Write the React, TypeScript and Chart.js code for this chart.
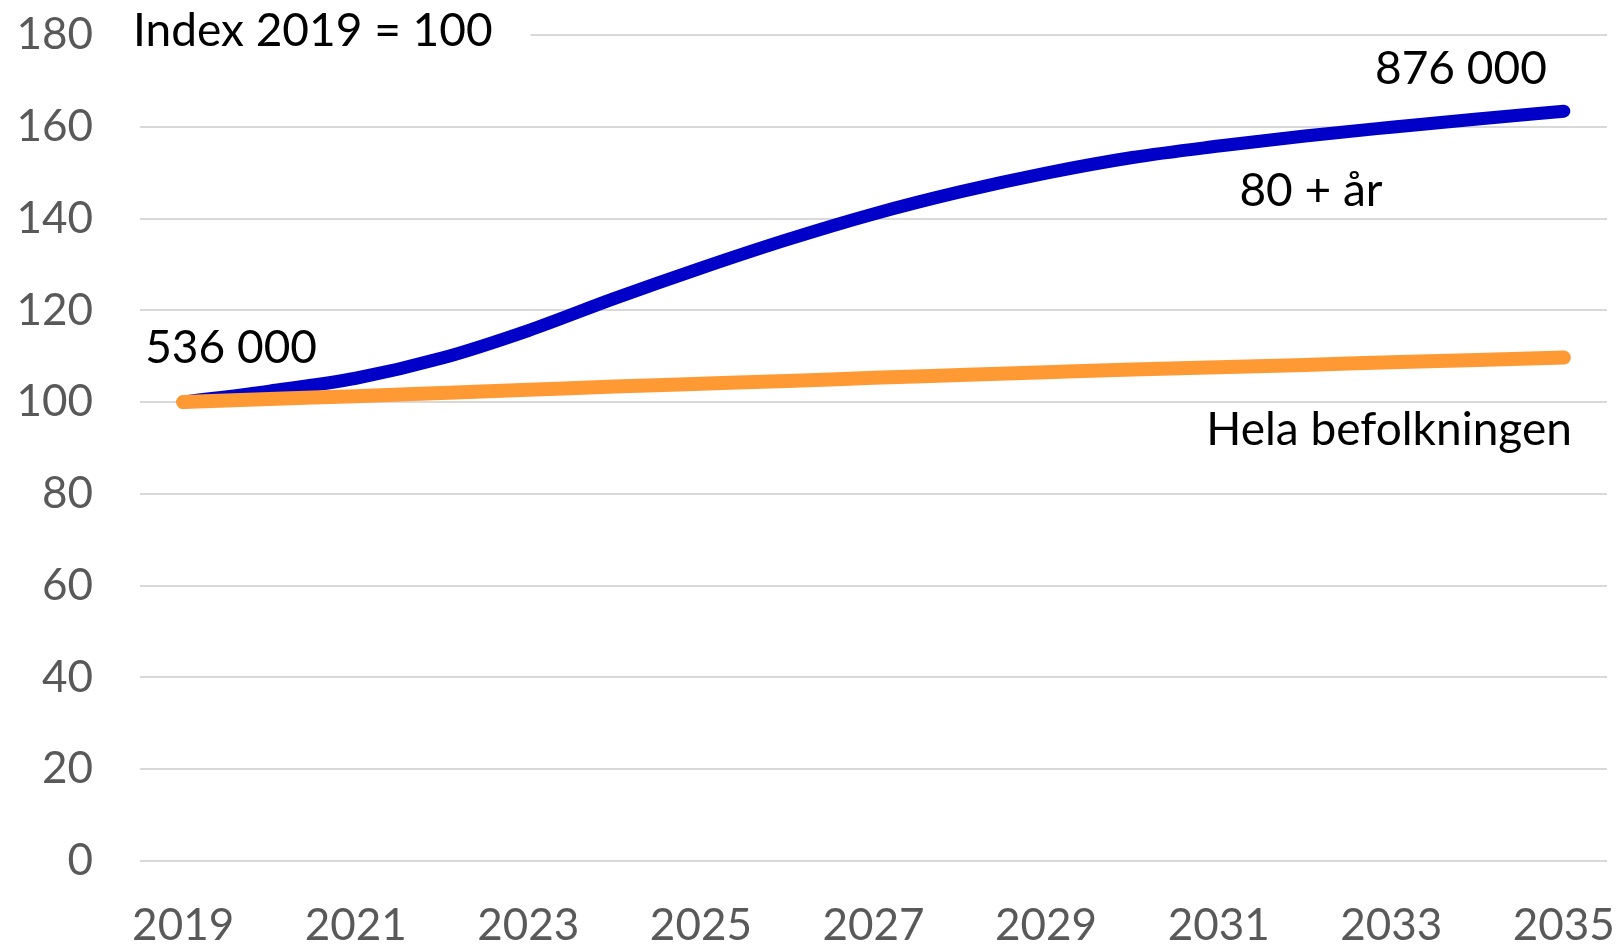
import React, { useEffect, useRef } from "react";
import { Chart, registerables } from "chart.js";

Chart.register(...registerables);

const years = ["2019","2020","2021","2022","2023","2024","2025","2026","2027","2028","2029","2030","2031","2032","2033","2034","2035"];
const over80 = [100, 102.4, 105.2, 109.6, 115.6, 122.6, 129.2, 135.4, 141.0, 145.8, 149.9, 153.3, 155.8, 158.0, 159.9, 161.7, 163.4];
const wholePop = [100, 100.7, 101.3, 102.0, 102.7, 103.4, 104.0, 104.6, 105.3, 105.9, 106.5, 107.1, 107.6, 108.1, 108.7, 109.2, 109.7];
const yTicks = [0, 20, 40, 60, 80, 100, 120, 140, 160, 180];

const FONT = "Lato";

const textPlugin = {
  id: "texts",
  afterDraw(chart: any) {
    const { ctx, scales } = chart;
    const x = scales.x;
    const y = scales.y;
    ctx.save();
    ctx.font = `46px ${FONT}`;
    ctx.textBaseline = "middle";
    ctx.textAlign = "left";
    const title = "Index 2019 = 100";
    const tw = ctx.measureText(title).width;
    ctx.fillStyle = "#ffffff";
    ctx.fillRect(x.left - 2, y.getPixelForValue(180) - 6, tw + 40 + (133 - x.left), 12);
    ctx.fillStyle = "#000000";
    ctx.fillText(title, 133, y.getPixelForValue(180) - 4);
    ctx.fillText("536 000", x.getPixelForValue(0) - 38, y.getPixelForValue(111.8));
    ctx.fillText("80 + år", x.getPixelForValue(12.24), y.getPixelForValue(146));
    ctx.textAlign = "right";
    ctx.fillText("876 000", x.getPixelForValue(16) - 17, y.getPixelForValue(172.6));
    ctx.fillText("Hela befolkningen", x.getPixelForValue(16) + 8, y.getPixelForValue(93.9));
    ctx.restore();
  },
};

export default function App() {
  const ref = useRef<HTMLCanvasElement | null>(null);
  useEffect(() => {
    if (!ref.current) return;
    const chart = new Chart(ref.current, {
      type: "line",
      data: {
        labels: years,
        datasets: [
          {
            label: "Hela befolkningen",
            data: wholePop,
            borderColor: "#FF9933",
            borderWidth: 14,
            borderCapStyle: "round",
            borderJoinStyle: "round",
            pointRadius: 0,
            cubicInterpolationMode: "monotone",
            fill: false,
          },
          {
            label: "80 + år",
            data: over80,
            borderColor: "#0000C8",
            borderWidth: 13,
            borderCapStyle: "round",
            borderJoinStyle: "round",
            pointRadius: 0,
            cubicInterpolationMode: "monotone",
            fill: false,
          },
        ],
      },
      options: {
        animation: false,
        responsive: false,
        maintainAspectRatio: false,
        layout: { padding: { left: 0, right: 17, top: 35, bottom: 0 } },
        plugins: { legend: { display: false }, tooltip: { enabled: false } },
        scales: {
          x: {
            offset: true,
            grid: { display: false, drawTicks: false },
            border: { display: false },
            ticks: {
              autoSkip: false,
              maxRotation: 0,
              padding: 38,
              color: "#595959",
              font: { family: FONT, size: 44 },
              callback: (_v: any, i: number) => (i % 2 === 0 ? years[i] : ""),
            },
            afterFit: (s: any) => {
              s.height = 87;
              s.paddingLeft = 0;
              s.paddingRight = 0;
              s.paddingTop = 0;
              s.paddingBottom = 0;
            },
          },
          y: {
            min: 0,
            max: 180,
            afterBuildTicks: (s: any) => { s.ticks = yTicks.map((v) => ({ value: v })); },
            grid: { color: "#D9D9D9", lineWidth: 2, drawTicks: false },
            border: { display: false },
            ticks: {
              padding: 47,
              color: "#595959",
              font: { family: FONT, size: 44 },
            },
            afterFit: (s: any) => {
              s.width = 140;
              s.paddingTop = 0;
              s.paddingBottom = 0;
              s.paddingLeft = 0;
              s.paddingRight = 0;
            },
          },
        },
      },
      plugins: [textPlugin],
    });
    return () => chart.destroy();
  }, []);
  return (
    <div style={{ position: "absolute", left: 0, top: 0, width: 1624, height: 948, background: "#fff" }}>
      <canvas ref={ref} width={1624} height={948} style={{ display: "block" }} />
    </div>
  );
}
